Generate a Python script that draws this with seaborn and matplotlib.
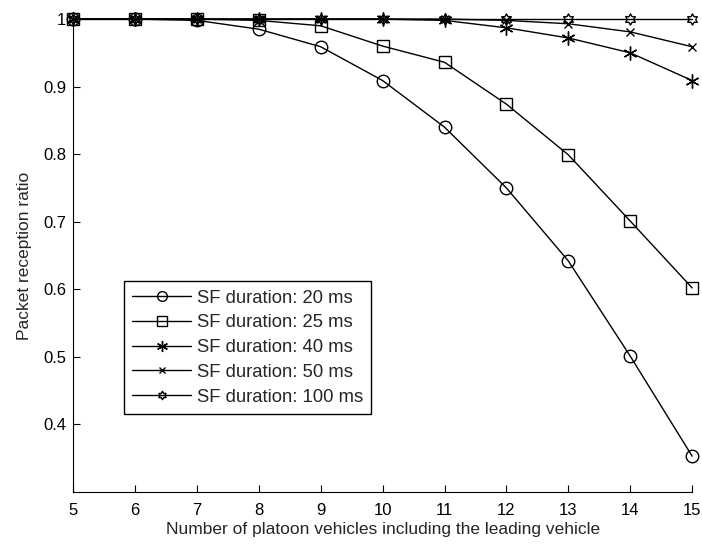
import numpy as np
import pandas as pd
import matplotlib.pyplot as plt
from matplotlib.path import Path
import seaborn as sns

vehicles = [5, 6, 7, 8, 9, 10, 11, 12, 13, 14, 15]
prr_20 = [1.0, 1.0, 0.998, 0.985, 0.959, 0.909, 0.840, 0.750, 0.642, 0.501, 0.353]
prr_25 = [1.0, 1.0, 1.0, 0.998, 0.990, 0.960, 0.936, 0.874, 0.799, 0.701, 0.602]
prr_40 = [1.0, 1.0, 1.0, 1.0, 1.0, 1.0, 0.998, 0.987, 0.972, 0.950, 0.909]
prr_50 = [1.0, 1.0, 1.0, 1.0, 1.0, 1.0, 1.0, 0.998, 0.993, 0.981, 0.959]
prr_100 = [1.0, 1.0, 1.0, 1.0, 1.0, 1.0, 1.0, 1.0, 1.0, 1.0, 1.0]
labels = ["SF duration: 20 ms", "SF duration: 25 ms", "SF duration: 40 ms",
          "SF duration: 50 ms", "SF duration: 100 ms"]

# hexagram marker (MATLAB 'h' style star)
ang = np.pi / 2 + np.arange(12) * np.pi / 6
rad = np.where(np.arange(12) % 2 == 0, 1.0, 1 / np.sqrt(3))
verts = np.column_stack([rad * np.cos(ang), rad * np.sin(ang)])
verts = np.vstack([verts, verts[:1]])
hexagram = Path(verts, [Path.MOVETO] + [Path.LINETO] * 11 + [Path.CLOSEPOLY])

sns.set_style("ticks")
plt.rcParams['font.family'] = ['Liberation Sans', 'DejaVu Sans']

fig = plt.figure(figsize=(7.02, 5.44), dpi=100)
ax = fig.add_axes([0.104, 0.0956, 0.882, 0.8694])

series = [prr_20, prr_25, prr_40, prr_50, prr_100]
markers = ['o', 's', (6, 2, 0), 'x', hexagram]
sizes = [9, 9, 10, 6, 8]
leg_sizes = [7, 7, 8, 4.5, 6]
for vals, lab, m, ms in zip(series, labels, markers, sizes):
    df = pd.DataFrame({"x": vehicles, "y": vals})
    sns.lineplot(data=df, x="x", y="y", ax=ax, color="black", linewidth=1,
                 marker=m, markersize=ms, markerfacecolor="none",
                 markeredgecolor="black", markeredgewidth=1, label=lab,
                 clip_on=False)

ax.set_xlim(5, 15)
ax.set_ylim(0.3, 1.0)
ax.set_xticks(vehicles)
ax.set_yticks([0.4, 0.5, 0.6, 0.7, 0.8, 0.9, 1.0])
ax.set_yticklabels(["0.4", "0.5", "0.6", "0.7", "0.8", "0.9", "1"])
ax.tick_params(direction="in", length=5, labelsize=12, colors="black", pad=5)
ax.tick_params(axis="x", pad=8)
ax.set_xlabel("Number of platoon vehicles including the leading vehicle",
              fontsize=12.5, labelpad=3)
ax.set_ylabel("Packet reception ratio", fontsize=12.5, labelpad=8)
sns.despine(ax=ax)
for sp in ax.spines.values():
    sp.set_color("black")

leg = ax.legend(loc="lower left", bbox_to_anchor=(0.082, 0.165), borderaxespad=0,
                fontsize=13.3, frameon=True, fancybox=False, edgecolor="black",
                framealpha=1, handlelength=3.2, handletextpad=0.3,
                borderpad=0.45, labelspacing=0.42)
leg.get_frame().set_linewidth(1)
for h, s in zip(leg.legend_handles, leg_sizes):
    h.set_markersize(s)

fig.savefig("out.png", dpi=100)
